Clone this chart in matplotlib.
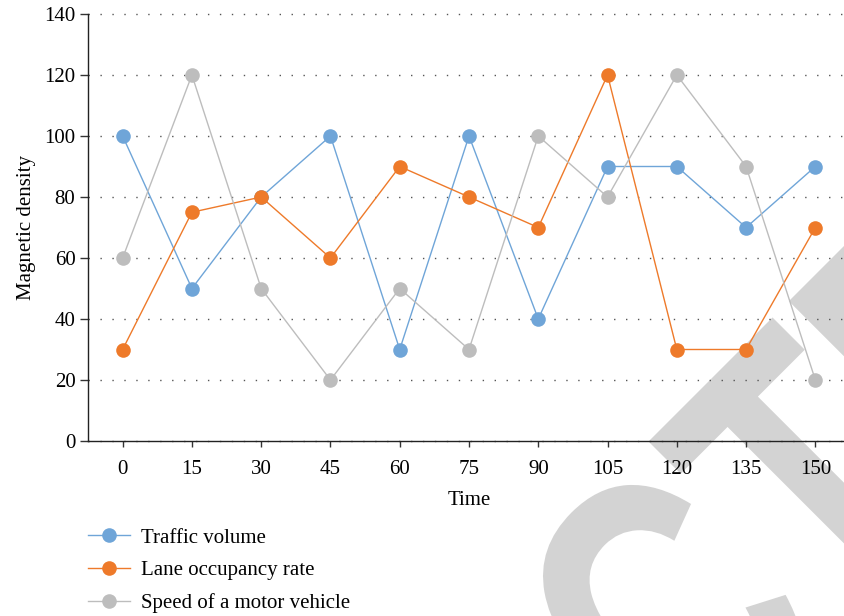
import numpy as np
import matplotlib
matplotlib.use("Agg")
import matplotlib.pyplot as plt
from matplotlib.textpath import TextPath
from matplotlib.font_manager import FontProperties
from matplotlib.patches import PathPatch
from matplotlib.transforms import Affine2D

# data
times = [0, 15, 30, 45, 60, 75, 90, 105, 120, 135, 150]
traffic_volume = [100, 50, 80, 100, 30, 100, 40, 90, 90, 70, 90]
lane_occupancy = [30, 75, 80, 60, 90, 80, 70, 120, 30, 30, 70]
vehicle_speed = [60, 120, 50, 20, 50, 30, 100, 80, 120, 90, 20]
y_ticks = [0, 20, 40, 60, 80, 100, 120, 140]

series = [
    ("Traffic volume", traffic_volume, "#6FA5D8"),
    ("Lane occupancy rate", lane_occupancy, "#EE7A2A"),
    ("Speed of a motor vehicle", vehicle_speed, "#BDBDBD"),
]

W, H = 845, 616

plt.rcParams["font.family"] = "serif"
plt.rcParams["font.serif"] = ["Liberation Serif", "DejaVu Serif"]


def add_watermark(fig):
    # big grey "RETRACTED" stamp, rotated, mostly off the page
    fp = FontProperties(family="Liberation Sans", weight="bold")
    word = TextPath((0, 0), "RETRACTED", size=1, prop=fp)
    t_right = TextPath((0, 0), "RETRACT", size=1, prop=fp).get_extents().x1
    t_ext = TextPath((0, 0), "T", size=1, prop=fp).get_extents()
    t_left = t_right - t_ext.width
    cap = t_ext.y1
    S = 410.0
    sx = 175.4 / (t_ext.width * S)
    tr = (Affine2D().translate(-t_left, -cap).scale(S * sx, S)
          .rotate_deg(45).translate(648.5, H - 441.5).scale(1 / W, 1 / H)
          + fig.transFigure)
    patch = PathPatch(word, facecolor="#D3D3D3", edgecolor="none",
                      transform=tr, zorder=-5)
    fig.add_artist(patch)


def main():
    fig = plt.figure(figsize=(W / 100, H / 100), dpi=100)
    add_watermark(fig)

    ax = fig.add_axes([88 / W, (H - 441) / H, (850 - 88) / W, (441 - 14) / H])
    ax.set_facecolor("none")

    handles = []
    for label, vals, color in series:
        h, = ax.plot(times, vals, color=color, lw=1.0, marker="o",
                     markersize=10.5, markeredgewidth=0, label=label,
                     clip_on=False)
        handles.append(h)

    ax.set_xlim(-7.5, 157.5)
    ax.set_ylim(0, 140)
    ax.set_xticks(times)
    ax.set_yticks(y_ticks)
    ax.tick_params(axis="both", labelsize=15, width=1.0, color="#333333")
    ax.tick_params(axis="y", length=6, pad=3)
    ax.tick_params(axis="x", length=4.5, pad=9.5)

    for side in ["top", "right"]:
        ax.spines[side].set_visible(False)
    for side in ["left", "bottom"]:
        ax.spines[side].set_linewidth(1.0)
        ax.spines[side].set_color("#222222")

    ax.yaxis.grid(True, color="#555555", lw=1.0, linestyle=(0, (1, 7.6)))
    ax.set_axisbelow(True)
    for gl in ax.get_ygridlines():
        gl.set_clip_on(False)

    ax.set_xlabel("Time", fontsize=15, labelpad=8)
    ax.set_ylabel("Magnetic density", fontsize=15, labelpad=6)

    fig.legend(handles=handles, loc="upper left",
               bbox_to_anchor=(88 / W, 1 - 528 / H), frameon=False,
               fontsize=15, handlelength=2.0, handletextpad=0.55,
               labelspacing=0.62, borderaxespad=0, borderpad=0)

    fig.savefig("out.png", dpi=100)


if __name__ == "__main__":
    main()
